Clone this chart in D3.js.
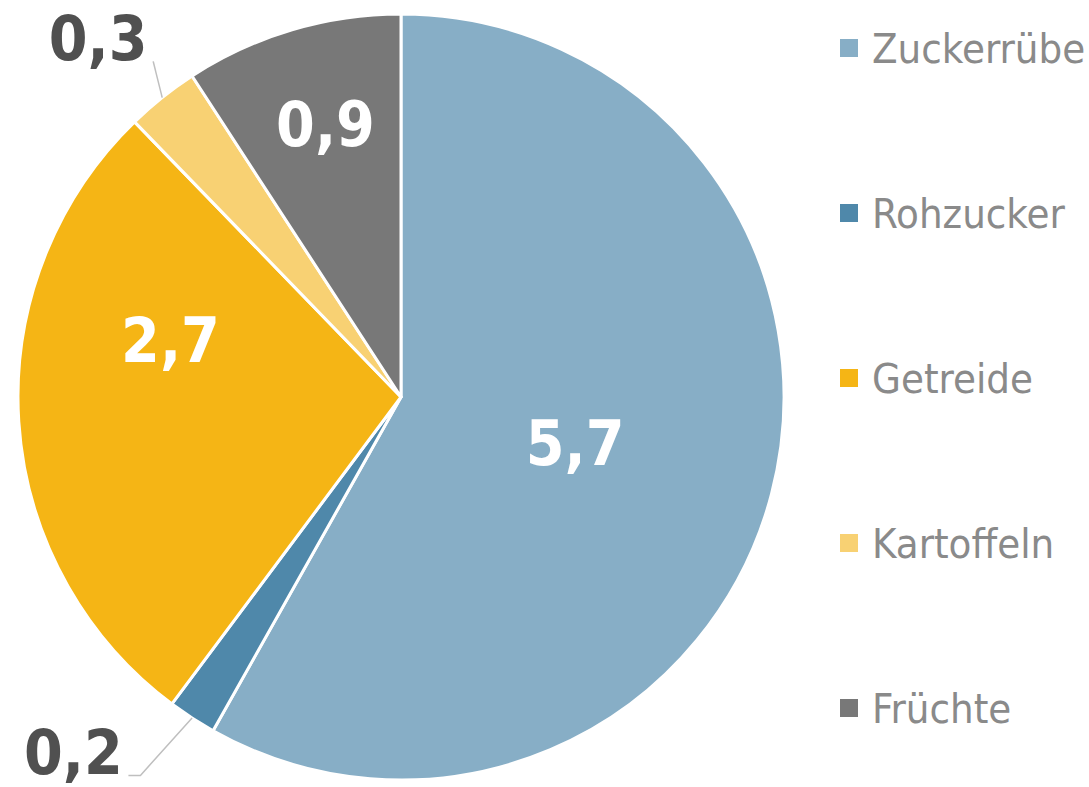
<!DOCTYPE html>
<html>
<head>
<meta charset="utf-8">
<title>Anteile</title>
<script src="https://cdn.jsdelivr.net/npm/d3@7"></script>
<style>
	body { margin: 0; background: #fff; }
	svg { display: block; }
	.legend text { font-family: "DejaVu Sans Condensed", "DejaVu Sans", sans-serif; font-stretch: condensed; }
	.lbl { font-family: "DejaVu Sans Condensed", "DejaVu Sans", sans-serif; font-stretch: condensed; font-weight: bold; }
</style>
</head>
<body>
<div id="chart"></div>
<script>
	// daten
	var categories = ["Zuckerrübe", "Rohzucker", "Getreide", "Kartoffeln", "Früchte"];
	var values = [5.7, 0.2, 2.7, 0.3, 0.9];
	var valueLabels = ["5,7", "0,2", "2,7", "0,3", "0,9"];
	var colors = ["#87aec6", "#4f88aa", "#f5b515", "#f8d173", "#787878"];

	var width = 1089, height = 787;
	var cx = 401, cy = 397, R = 383;

	// label placement: radius along mid angle + nudge, inside or outside the pie
	var labelLayout = [
		{r: 180, dx: 0, dy: 0, inside: true},
		{r: 430, dx: -93, dy: -5, inside: false},
		{r: 235, dx: 4, dy: -72, inside: true},
		{r: 460, dx: -16, dy: 1, inside: false},
		{r: 283, dx: 5, dy: -2, inside: true}
	];

	var svg = d3.select("#chart").append("svg")
		.attr("width", width)
		.attr("height", height);

	var pie = d3.pie().sort(null).value(function(d) { return d; });
	var arcs = pie(values);

	var arc = d3.arc().innerRadius(0).outerRadius(R);

	var g = svg.append("g").attr("transform", "translate(" + cx + "," + cy + ")");

	g.selectAll("path.slice")
		.data(arcs)
		.enter().append("path")
		.attr("class", "slice")
		.attr("d", arc)
		.attr("fill", function(d, i) { return colors[i]; })
		.attr("stroke", "#fff")
		.attr("stroke-width", 3)
		.attr("stroke-linejoin", "round");

	function polar(r, a) {
		return [r * Math.sin(a), -r * Math.cos(a)];
	}

	arcs.forEach(function(d, i) {
		var L = labelLayout[i];
		var mid = (d.startAngle + d.endAngle) / 2;
		var p = polar(L.r, mid);
		var x = p[0] + L.dx, y = p[1] + L.dy;
		g.append("text")
			.attr("class", "lbl")
			.attr("x", x)
			.attr("y", y + 22)
			.attr("text-anchor", "middle")
			.attr("font-size", 62)
			.attr("fill", L.inside ? "#fff" : "#505050")
			.text(valueLabels[i]);

		if (!L.inside) {
			var edge = polar(R, mid);
			var pts;
			if (y < edge[1]) {
				// label above slice, line from label corner to arc
				pts = [[x + 55, y + 23], edge];
			} else {
				pts = [[x + 55, y + 23], [x + 67, y + 23], edge];
			}
			g.append("path")
				.attr("d", d3.line()(pts))
				.attr("fill", "none")
				.attr("stroke", "#bfbfbf")
				.attr("stroke-width", 1.5);
		}
	});

	// legende
	var legend = svg.append("g").attr("class", "legend")
		.selectAll("g")
		.data(categories)
		.enter().append("g")
		.attr("transform", function(d, i) { return "translate(840," + (48 + i * 165) + ")"; });

	legend.append("rect")
		.attr("x", 0)
		.attr("y", -9)
		.attr("width", 18)
		.attr("height", 18)
		.attr("fill", function(d, i) { return colors[i]; });

	legend.append("text")
		.attr("x", 32)
		.attr("y", 15)
		.attr("font-size", 41.5)
		.attr("fill", "#8a8a8a")
		.text(function(d) { return d; });
</script>
</body>
</html>
